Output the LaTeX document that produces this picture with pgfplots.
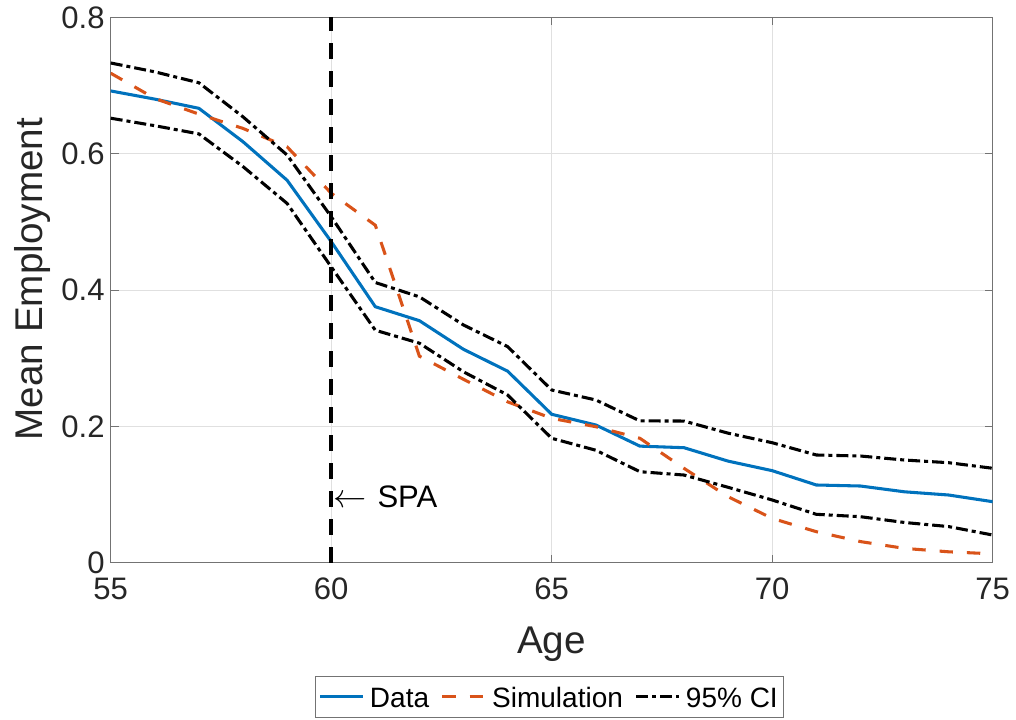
\documentclass[border=0pt]{standalone}
\usepackage{pgfplots}
\pgfplotsset{compat=1.18}
\usepackage{fontspec}
\setmainfont{Liberation Sans}
\definecolor{mblue}{rgb}{0,0.447,0.741}
\definecolor{morange}{rgb}{0.85,0.325,0.098}
\definecolor{mgray}{rgb}{0.15,0.15,0.15}
\pgfplotstableread{
age data sim up lo
55 0.692  0.718  0.733  0.652
56 0.680  0.681  0.720  0.641
57 0.6665 0.658  0.704  0.629
58 0.6175 0.637  0.654  0.581
59 0.561  0.610  0.598  0.527
60 0.471  0.542  0.5075 0.434
61 0.3755 0.495  0.411  0.341
62 0.355  0.303  0.390  0.322
63 0.313  0.269  0.3487 0.280
64 0.281  0.236  0.317  0.246
65 0.2177 0.2118 0.2533 0.1825
66 0.202  0.1995 0.2387 0.165
67 0.171  0.1825 0.208  0.1335
68 0.1687 0.1384 0.2078 0.1286
69 0.149  0.0968 0.190  0.1106
70 0.135  0.065  0.176  0.092
71 0.114  0.0455 0.158  0.071
72 0.1125 0.031  0.1565 0.0675
73 0.104  0.021  0.1506 0.059
74 0.0993 0.016  0.1467 0.053
75 0.0895 0.013  0.1385 0.0406
}\emp
\begin{document}
\begin{tikzpicture}
\begin{axis}[
  scale only axis, width=661.5pt, height=409.05pt,
  xmin=55, xmax=75, ymin=0, ymax=0.8,
  xtick={55,60,65,70,75}, ytick={0,0.2,0.4,0.6,0.8},
  yticklabel style={/pgf/number format/fixed,/pgf/number format/precision=1, xshift=-1pt},
  xticklabel style={yshift=-7.8pt},
  /pgf/number format/assume math mode=true,
  tick label style={font=\fontsize{23.3}{28}\selectfont, text=mgray},
  label style={font=\fontsize{29}{35}\selectfont, text=mgray},
  xlabel={Age}, ylabel={Mean Employment},
  xlabel style={at={(axis description cs:0.4997,-0.1494)}, anchor=center},
  ylabel style={at={(axis description cs:-0.0884,0.520)}, anchor=center},
  tick align=inside, tick pos=both, major tick length=6pt,
  axis line style={line width=0.75pt, draw=black!55},
  major tick style={line width=0.75pt, draw=black!55},
  grid=major, major grid style={line width=0.6pt, draw=black!12},
  legend columns=3,
  legend style={at={(0.4975,-0.2077)}, anchor=north,
    font=\fontsize{21}{25}\selectfont, draw=black!55, line width=0.75pt,
    inner xsep=2pt, inner ysep=3.4pt,
    nodes={inner sep=2pt, text height=17.6pt, text depth=2.1pt},
    /tikz/every odd column/.append style={column sep=2.3pt},
    /tikz/every even column/.append style={column sep=6.7pt}},
  legend image code/.code={\draw[#1] (0pt,0pt) -- (32pt,0pt);},
]
\addplot[mblue, line width=2.3pt] table[x=age,y=data]{\emp};
\addlegendentry{Data}
\addplot[morange, line width=2.3pt, dash pattern=on 10pt off 10.5pt] table[x=age,y=sim]{\emp};
\addlegendentry{Simulation}
\addplot[black, line width=2.3pt, dash pattern=on 9pt off 3pt on 3pt off 3pt] table[x=age,y=up]{\emp};
\addlegendentry{95\% CI}
\addplot[black, line width=2.3pt, dash pattern=on 9pt off 3pt on 3pt off 3pt, forget plot] table[x=age,y=lo]{\emp};
\addplot[black, line width=2.8pt, dash pattern=on 12pt off 9pt, forget plot] coordinates {(60,0) (60,0.8)};
\node[anchor=base west, inner sep=0pt, font=\fontsize{23.3}{28}\selectfont] at (axis cs:60.05,0.0813) {$\leftarrow$\hspace{8pt}SPA};
\end{axis}
\pgfresetboundingbox
\path (current axis.south west) ++(-83.025pt,-117.225pt) rectangle ++(762pt,539.25pt);
\end{tikzpicture}
\end{document}
